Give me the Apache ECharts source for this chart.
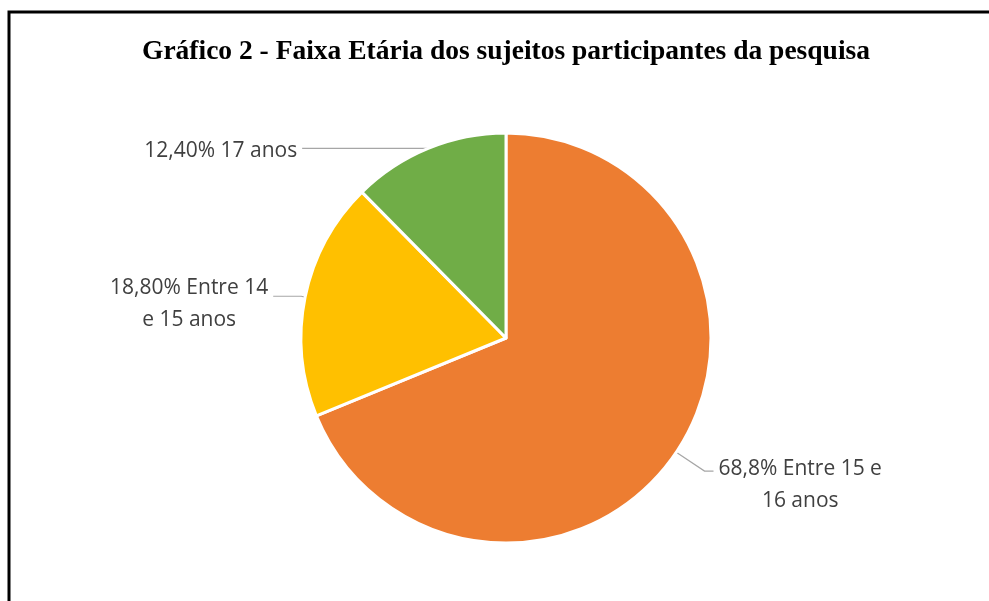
<!DOCTYPE html>
<html>
<head>
<meta charset="utf-8">
<script src="https://cdn.jsdelivr.net/npm/echarts@6/dist/echarts.min.js"></script>
<style>
  html, body { margin: 0; padding: 0; background: #fff; }
  #chart { width: 989px; height: 601px; }
</style>
</head>
<body>
<div id="chart"></div>
<script>
const categories = ['Entre 15 e 16 anos', 'Entre 14 e 15 anos', '17 anos']
const values = [68.8, 18.8, 12.4]
const labelTexts = [
  ['68,8% Entre 15 e', '16 anos'],
  ['18,80% Entre 14', 'e 15 anos'],
  ['12,40% 17 anos']
]
const colors = ['#ED7D31', '#FFC000', '#70AD47']
// comprimento das linhas de chamada e deslocamento vertical do texto
const lineLen = [[34, 9], [4, 28], [0, 126]]
const labelDy = [14, 8, 3]

let myChart = echarts.init(document.getElementById('chart'))
var option = {
  animation: false,
  title: {
    text: 'Gráfico 2 - Faixa Etária dos sujeitos participantes da pesquisa',
    left: 501,
    textAlign: 'center',
    top: 33,
    textStyle: {
      fontFamily: 'Liberation Serif',
      fontWeight: 'bold',
      fontSize: 27.5,
      color: '#000'
    }
  },
  graphic: [{
    type: 'polyline',
    shape: { points: [[9, 620], [9, 12], [1000, 12]] },
    style: { stroke: '#000', lineWidth: 3, fill: null }
  }],
  series: [{
    type: 'pie',
    center: [506, 338],
    radius: 205,
    startAngle: 90,
    clockwise: true,
    itemStyle: { borderColor: '#fff', borderWidth: 3 },
    label: {
      show: true,
      position: 'outside',
      color: '#404040',
      fontFamily: 'Open Sans',
      fontSize: 21,
      lineHeight: 32,
      rich: {
        c: { align: 'center', fontFamily: 'Open Sans', fontSize: 21, color: '#404040', lineHeight: 32 }
      }
    },
    labelLine: {
      show: true,
      lineStyle: { color: '#A6A6A6', width: 1.2 }
    },
    labelLayout: function (params) {
      return { dy: labelDy[params.dataIndex] }
    },
    data: values.map((v, i) => ({
      name: categories[i],
      value: v,
      itemStyle: { color: colors[i] },
      label: {
        formatter: labelTexts[i].map(t => '{c|' + t + '}').join('\n')
      },
      labelLine: { length: lineLen[i][0], length2: lineLen[i][1] }
    }))
  }]
}
myChart.setOption(option)
</script>
</body>
</html>
